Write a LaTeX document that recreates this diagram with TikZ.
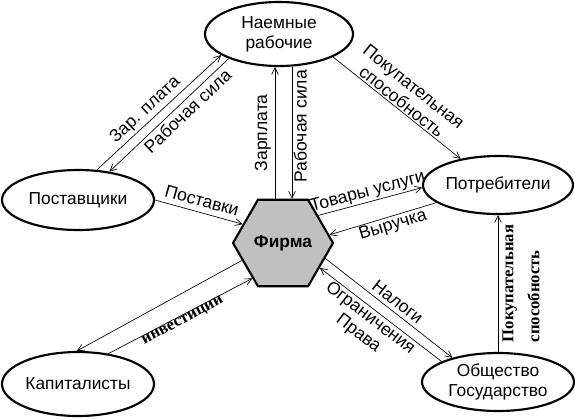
\documentclass[tikz,border=0pt]{standalone}
\usepackage{fontspec}
\setmainfont{Liberation Sans}
\newfontfamily\timesbold{Liberation Serif}
\usetikzlibrary{shapes.geometric,arrows.meta,positioning}

\definecolor{firmgray}{RGB}{192,192,192}

\begin{document}
\begin{tikzpicture}[
    x=0.75pt, y=-0.75pt,
    >={Straight Barb[length=5pt,width=5pt]},
    actor/.style={draw, ellipse, line width=1.6pt, inner sep=0pt, align=center,
                  font=\fontsize{13}{15}\selectfont},
    flow/.style={line width=0.5pt},
    lbl/.style={font=\fontsize{13.2}{14.5}\selectfont, sloped, inner sep=2pt, align=center},
    oddlbl/.style={font=\timesbold\bfseries\fontsize{12.5}{19.5}\selectfont, sloped, align=left}
]
    \useasboundingbox (0,0) rectangle (575,419);

    % participants
    \node[actor, minimum width=111pt, minimum height=48pt] (wrk) at (279,34) {Наемные\\рабочие};
    \node[actor, minimum width=114pt, minimum height=45pt] (sup) at (78,200) {Поставщики};
    \node[actor, minimum width=112.5pt, minimum height=43.5pt] (cons) at (498,185) {Потребители};
    \node[actor, minimum width=114pt, minimum height=48pt] (cap) at (78,384) {Капиталисты};
    \node[actor, minimum width=114pt, minimum height=43.5pt] (gov) at (498,382) {Общество\\Государство};
    \node[regular polygon, regular polygon sides=6, minimum size=75pt, inner sep=0pt,
          draw, line width=1.6pt, fill=firmgray,
          font=\bfseries\fontsize{13}{15}\selectfont] (firm) at (283,243) {Фирма};

    % workers and firm
    \coordinate (payfoot) at ([xshift=-6pt]firm.north);
    \coordinate (payhead) at (payfoot |- wrk.south);
    \coordinate (labfoot) at ([xshift=6.75pt]firm.north);
    \coordinate (labhead) at (labfoot |- wrk.south);
    \draw[flow, ->] (payfoot) -- (payhead) node[lbl, midway, above, inner sep=3pt] {Зарплата};
    \draw[flow, <-] (labfoot) -- (labhead) node[lbl, pos=0.55, below, inner sep=1pt] {Рабочая сила};

    % suppliers and workers
    \draw[flow, ->] (sup.58) -- (wrk.200) node[lbl, pos=0.45, above] {Зар. плата};
    \draw[flow, <-] (sup.42) -- (wrk.206) node[lbl, pos=0.6, below] {Рабочая сила};

    % workers to consumers
    \draw[flow, ->] (wrk.337) -- (cons.145)
        node[lbl, midway, above, inner sep=1pt] {Покупательная\\способность};

    % suppliers to firm
    \draw[flow, ->] (sup.east) -- (firm.155) node[lbl, midway, above, inner sep=4pt] {Поставки};

    % firm and consumers
    \draw[flow, ->] (firm.38) -- (cons.182) node[lbl, midway, above, inner sep=1pt] {Товары услуги};
    \draw[flow, <-] (firm.10) -- (cons.196) node[lbl, pos=0.57, below, inner sep=1pt] {Выручка};

    % firm and state
    \draw[flow, ->] (firm.340) -- (gov.152) node[lbl, pos=0.52, above, inner sep=3pt] {Налоги};
    \draw[flow, <-] (firm.326) -- (gov.160)
        node[lbl, pos=0.46, below, inner sep=1pt] {Ограничения\\Права};

    % capitalists and firm
    \draw[flow, <-] (cap.92) -- (firm.203);
    \draw[flow, ->] (cap.45) -- (firm.229)
        node[oddlbl, midway, anchor=north, inner sep=0pt] {инвестиции};

    % state to consumers
    \draw[flow, ->] (gov.north) -- (cons.south)
        node[oddlbl, midway, below, inner sep=3pt] {Покупательная\\способность};
\end{tikzpicture}
\end{document}
